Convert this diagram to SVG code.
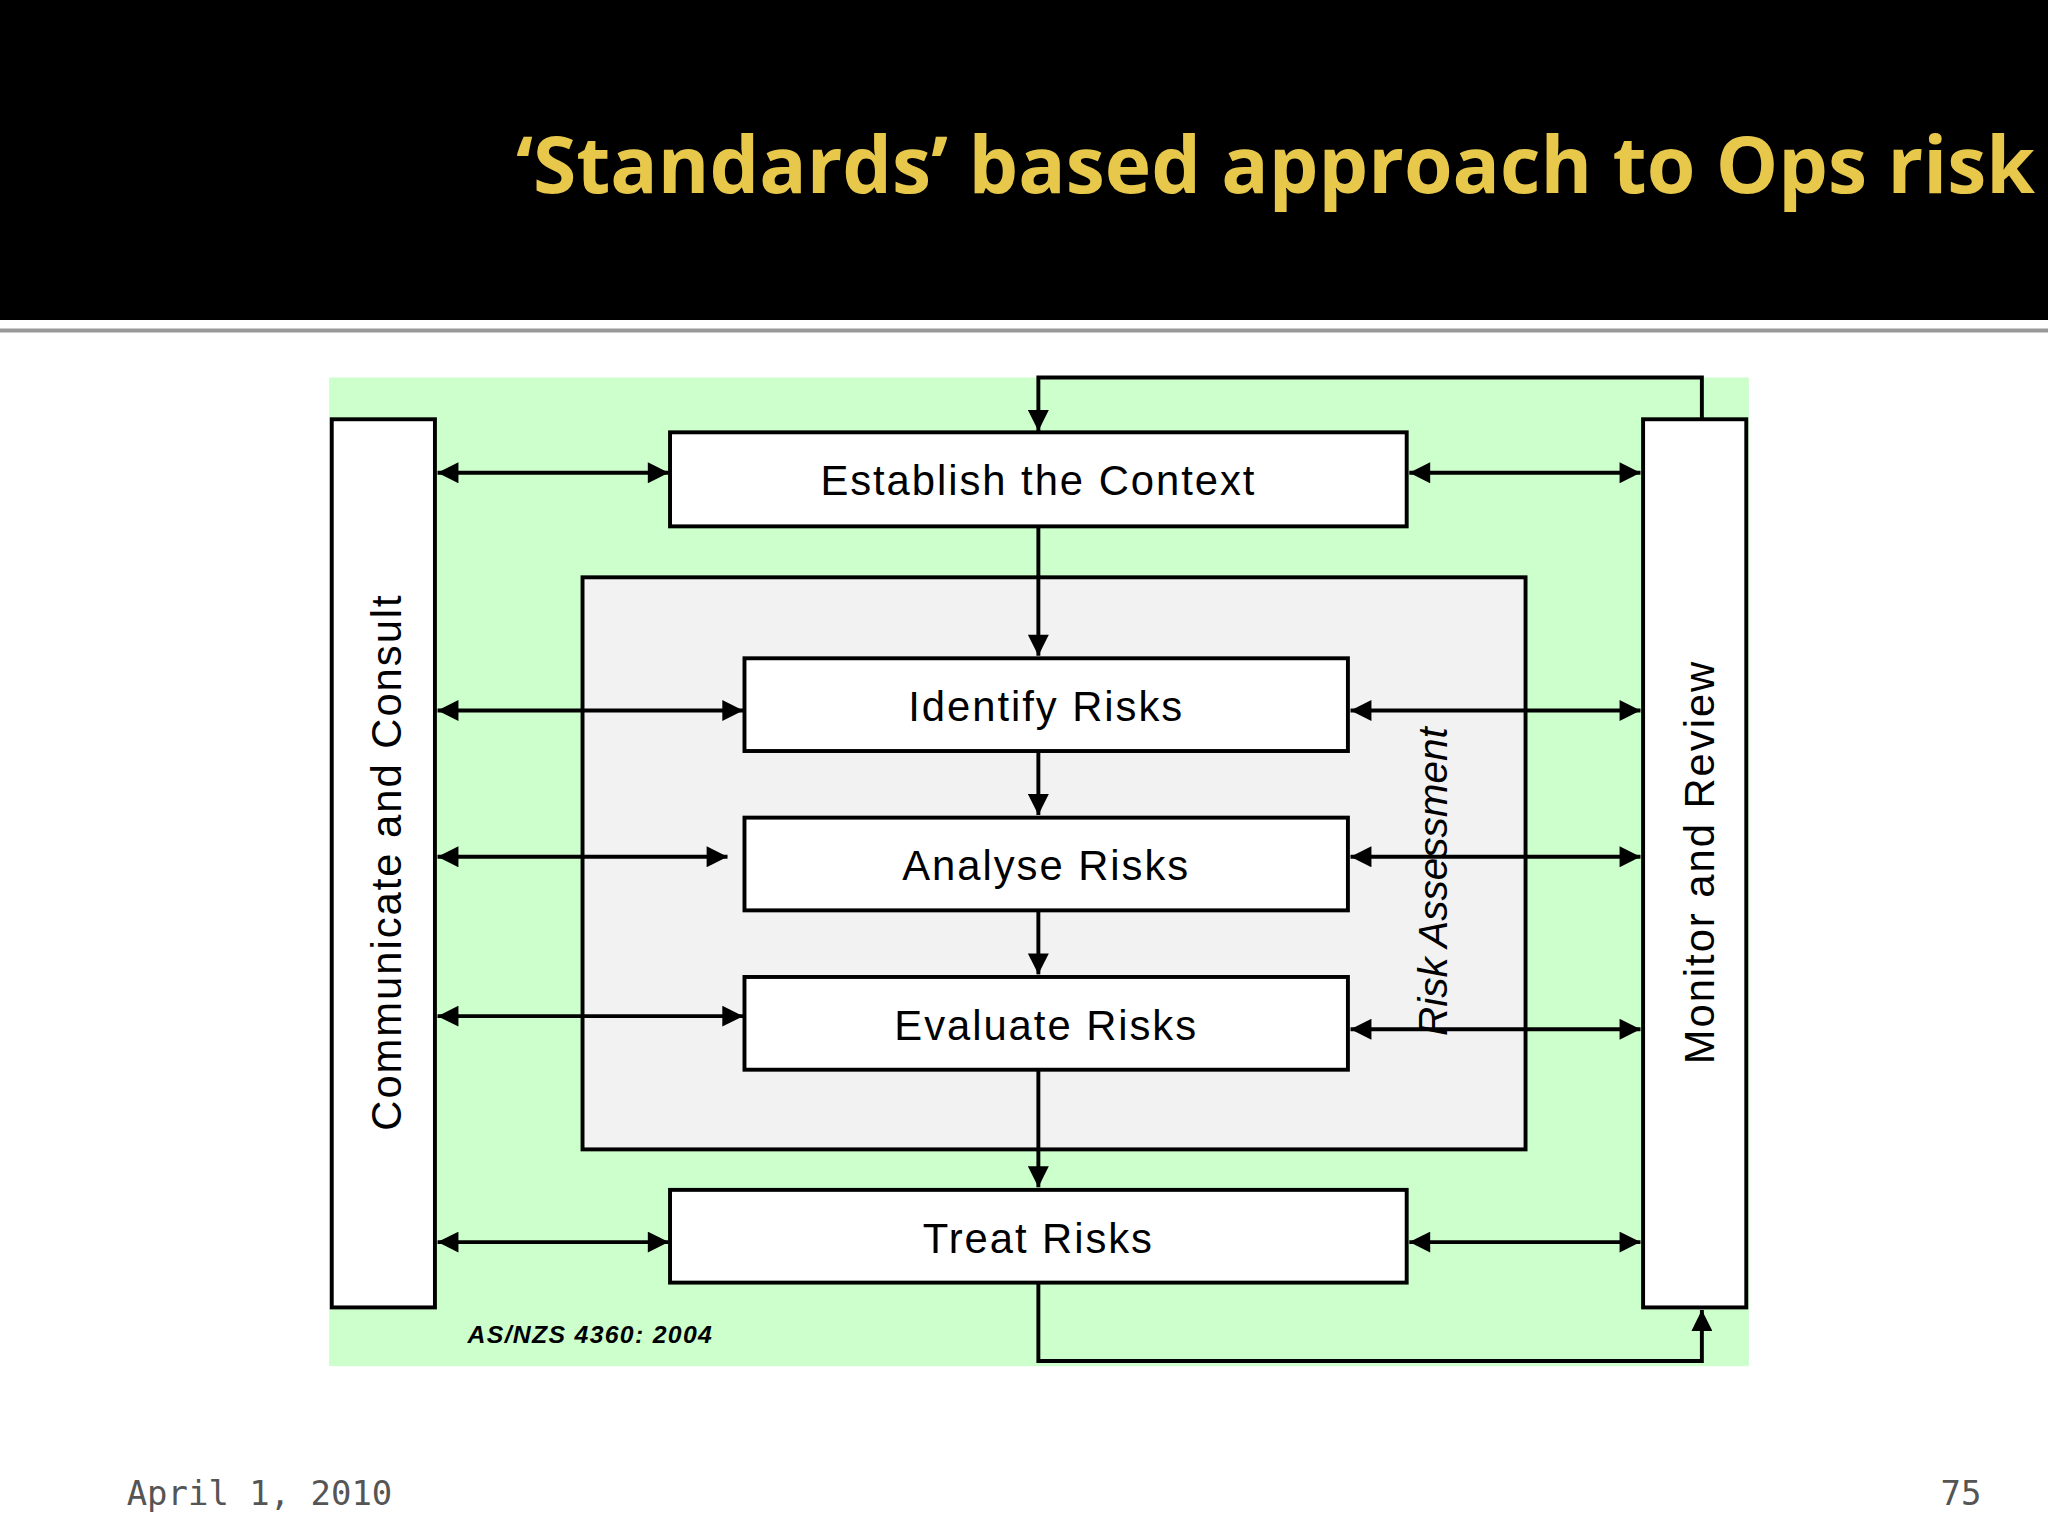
<svg xmlns="http://www.w3.org/2000/svg" width="2048" height="1536" viewBox="0 0 2048 1536">
<defs>
<marker id="ah" viewBox="0 0 10 10" refX="10" refY="5" markerWidth="18" markerHeight="16" orient="auto-start-reverse" markerUnits="userSpaceOnUse"><path d="M0,0 L10,5 L0,10 z" fill="#000"/></marker>
<style>
.box{fill:#fff;stroke:#000;stroke-width:3}
.lbl{font-family:"Liberation Sans",Arial,sans-serif;font-size:32px;fill:#000;text-anchor:middle;letter-spacing:1.5px}
.ln{stroke:#000;stroke-width:3;fill:none}
.ar{stroke:#000;stroke-width:3;fill:none;marker-end:url(#ah)}
.bi{stroke:#000;stroke-width:3;fill:none;marker-end:url(#ah);marker-start:url(#ah)}
</style>
</defs>
<rect width="2048" height="1536" fill="#fff"/>
<g transform="scale(1.30612)">
<rect x="0" y="0" width="1568" height="245" fill="#000"/>
<line x1="0" y1="253" x2="1568" y2="253" stroke="#999" stroke-width="3"/>
<text x="1558" y="148" text-anchor="end" font-family="'Open Sans',sans-serif" font-weight="bold" font-size="60" fill="#e8c84a" textLength="1163" lengthAdjust="spacingAndGlyphs">‘Standards’ based approach to Ops risk</text>
<rect x="252" y="289" width="1087" height="757" fill="#ccffcc"/>
<rect x="446" y="442" width="722" height="438" fill="#f2f2f2" stroke="#000" stroke-width="3"/>
<text transform="translate(1108,675) rotate(-90)" font-family="'Liberation Sans',Arial,sans-serif" font-style="italic" font-size="31" text-anchor="middle">Risk Assessment</text>
<g id="connectors">
<path class="ar" d="M1303,321 V289 H795 V330"/>
<path class="ar" d="M795,982 V1042 H1303 V1003"/>
<line class="ar" x1="795" y1="403" x2="795" y2="502"/>
<line class="ar" x1="795" y1="575" x2="795" y2="624"/>
<line class="ar" x1="795" y1="697" x2="795" y2="746"/>
<line class="ar" x1="795" y1="819" x2="795" y2="909"/>
<line class="bi" x1="335" y1="362" x2="512" y2="362"/>
<line class="bi" x1="1079" y1="362" x2="1256" y2="362"/>
<line class="bi" x1="335" y1="544" x2="569" y2="544"/>
<line class="bi" x1="1034" y1="544" x2="1256" y2="544"/>
<line class="bi" x1="335" y1="656" x2="557" y2="656"/>
<line class="bi" x1="1034" y1="656" x2="1256" y2="656"/>
<line class="bi" x1="335" y1="778" x2="569" y2="778"/>
<line class="bi" x1="1034" y1="788" x2="1256" y2="788"/>
<line class="bi" x1="335" y1="951" x2="512" y2="951"/>
<line class="bi" x1="1079" y1="951" x2="1256" y2="951"/>
</g>
<g id="communicate"><rect class="box" x="254" y="321" width="79" height="680"/><text class="lbl" transform="translate(307,660) rotate(-90)">Communicate and Consult</text></g>
<g id="monitor"><rect class="box" x="1258" y="321" width="79" height="680"/><text class="lbl" transform="translate(1312,660) rotate(-90)">Monitor and Review</text></g>
<g id="establish"><rect class="box" x="513" y="331" width="564" height="72"/><text class="lbl" x="795" y="379">Establish the Context</text></g>
<g id="identify"><rect class="box" x="570" y="504" width="462" height="71" stroke-width="2"/><text class="lbl" x="801" y="552">Identify Risks</text></g>
<g id="analyse"><rect class="box" x="570" y="626" width="462" height="71"/><text class="lbl" x="801" y="674">Analyse Risks</text></g>
<g id="evaluate"><rect class="box" x="570" y="748" width="462" height="71" stroke-width="2"/><text class="lbl" x="801" y="796">Evaluate Risks</text></g>
<g id="treat"><rect class="box" x="513" y="911" width="564" height="71"/><text class="lbl" x="795" y="959">Treat Risks</text></g>
<text x="358" y="1028" font-family="'Liberation Sans',Arial,sans-serif" font-weight="bold" font-style="italic" font-size="19" letter-spacing="1">AS/NZS 4360: 2004</text>
<text x="97" y="1152" font-family="'DejaVu Sans Mono',monospace" font-size="26" fill="#555">April 1, 2010</text>
<text x="1517" y="1152" text-anchor="end" font-family="'DejaVu Sans Mono',monospace" font-size="26" fill="#555">75</text>
</g>
</svg>
